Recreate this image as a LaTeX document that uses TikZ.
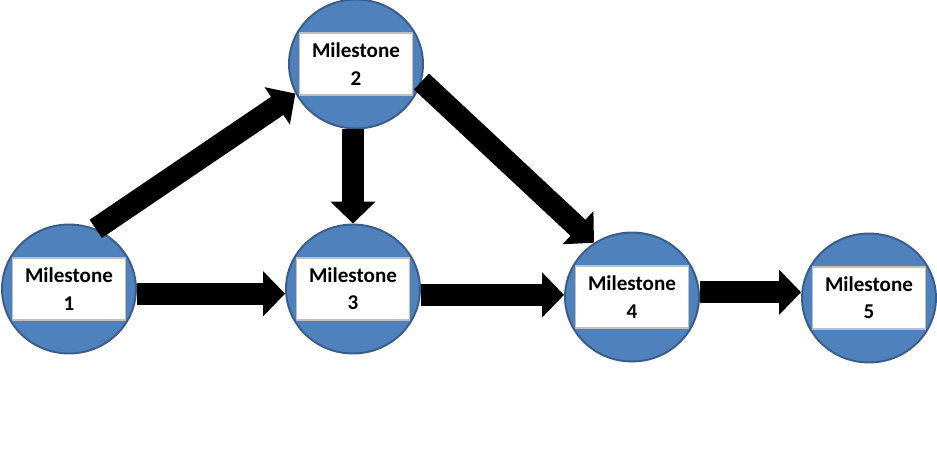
\documentclass[tikz,border=0pt]{standalone}
\usepackage{fontspec}
\setmainfont{Carlito}
\usetikzlibrary{shapes.geometric,arrows.meta,positioning}
\definecolor{mileblue}{HTML}{4F81BD}
\definecolor{mileedge}{HTML}{385D8A}
\definecolor{boxedge}{HTML}{BFBFBF}

\begin{document}
\begin{tikzpicture}[
    x=0.02cm, y=-0.02cm,
    milestone/.style={ellipse, draw=mileedge, fill=mileblue, line width=1.1pt, minimum width=2.68cm, minimum height=2.58cm, inner sep=0pt},
    milebox/.style={draw=boxedge, fill=white, line width=0.6pt, minimum width=2.26cm, minimum height=1.24cm, align=center, font=\fontsize{12}{15.5}\selectfont\bfseries},
    milearrow/.style={line width=12.5pt, black, -{Triangle[width=25pt, length=12.5pt]}}
]
\useasboundingbox (0,0) rectangle (937,460);
% Milestones
\foreach \i/\x/\y in {1/69/289, 2/356/64, 3/353/289, 4/632/297, 5/869/298} {
    \node[milestone] (m\i) at (\x,\y) {};
    \node[milebox] (b\i) at (m\i) {Milestone\\\i};
}
% Arrows
\draw[milearrow] (m1.66) -- (m2.206);
\draw[milearrow] (m3.north |- m2.south) -- (m3.north);
\draw[milearrow] (m2.-15) -- (m4.125);
\draw[milearrow] (m1.-4) -- (m1.-4 -| m3.west);
\draw[milearrow] (m3.-5) -- (m3.-5 -| m4.west);
\draw[milearrow] (m4.4) -- (m4.4 -| m5.west);
\end{tikzpicture}
\end{document}
